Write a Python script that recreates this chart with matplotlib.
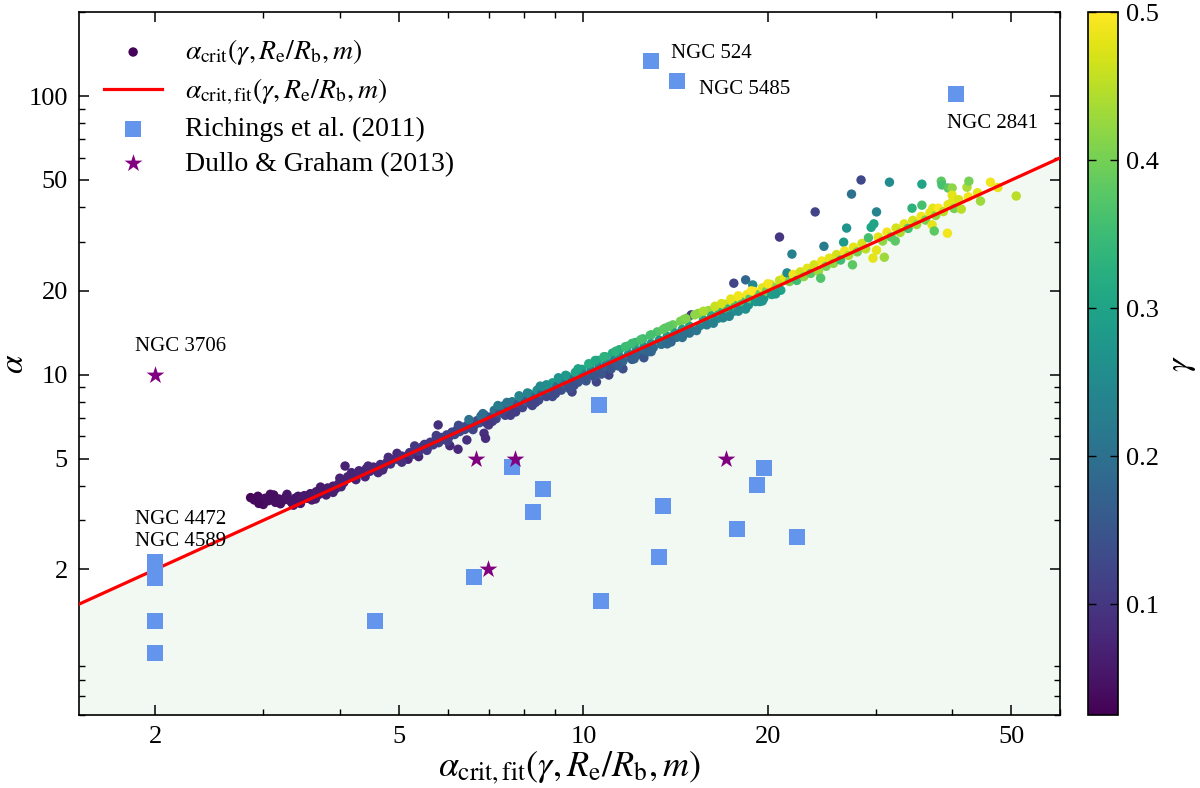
import numpy as np
import matplotlib
matplotlib.use("Agg")
import matplotlib.pyplot as plt
from matplotlib.ticker import FixedLocator, LogLocator, NullFormatter, FuncFormatter

# ---------------- data ----------------
# simulated critical alpha: x = alpha_crit,fit, y = alpha_crit, colour = gamma
crit_fit = [
    2.86, 2.90, 2.94, 2.98, 3.02, 3.06, 3.10, 3.14, 3.18, 3.22,
    3.26, 3.30, 3.34, 3.38, 3.42, 3.46, 3.00, 3.20, 3.36, 3.12,
    3.50, 3.54, 3.58, 3.62, 3.66, 3.70, 3.74, 3.78, 3.82, 3.86,
    3.90, 3.94, 3.98, 4.02, 4.06, 3.60, 3.80, 4.08,
    4.12, 4.18, 4.24, 4.30, 4.36, 4.42, 4.48, 4.54, 4.60, 4.66,
    4.72, 4.78, 4.84, 4.90, 4.96, 5.00, 5.06, 5.12, 5.17, 5.20,
    5.26, 5.32, 5.38, 5.38, 4.40, 4.70,
    5.45, 5.50, 5.56, 5.62, 5.68, 5.74, 5.80, 5.79, 5.86, 5.92,
    5.98, 6.05, 6.04, 6.10, 6.16, 6.22, 6.24, 6.28, 6.34, 6.40,
    6.45, 6.46, 6.52, 6.58, 6.64, 6.70, 6.76, 6.88, 6.92, 6.50, 6.80,
    6.90, 6.95, 7.05, 7.15, 7.20, 7.30, 7.40, 7.45, 7.55, 7.65,
    7.70, 7.80, 7.90, 7.95, 8.05, 8.15, 8.20, 8.30, 8.40, 8.45,
    8.55, 8.65, 8.70, 8.80, 8.90, 8.95, 9.05, 9.15, 9.20, 9.30,
    9.40, 9.45, 9.58, 9.60, 9.70, 9.80,
    9.95, 10.0, 10.05, 10.25, 10.3, 10.35, 10.5, 10.55, 10.6, 10.65,
    10.85, 10.9, 10.95, 11.0, 11.15, 11.2, 11.25, 11.45, 11.5, 11.6,
    11.6, 11.8, 11.85, 11.95, 12.15, 12.2, 12.3, 12.55, 12.5, 12.55,
    12.65, 12.85, 12.9, 13.0, 13.2, 13.3, 13.4, 13.6, 13.7, 13.8,
    14.0, 14.1, 14.2, 14.4, 14.5, 14.6, 14.8, 14.9, 15.0, 15.0, 15.2,
    15.5, 15.6, 15.7, 16.0, 16.1, 16.2, 16.5, 16.6, 16.7, 17.0,
    17.1, 17.2, 17.5, 17.6, 17.6, 17.7, 18.0, 18.1, 18.2, 18.4,
    18.5, 18.6, 18.7, 18.9, 19.0, 19.1, 19.3, 19.6, 19.7, 19.9,
    20.2, 20.3, 20.5, 20.9, 20.9, 21.0,
    21.3, 21.5, 21.7, 21.9, 22.0, 22.3, 22.6, 22.9, 23.2, 23.5,
    23.9, 23.8, 24.2, 24.4, 24.5, 24.7, 24.9, 25.2, 25.6, 25.9,
    26.3, 26.6, 26.7, 26.9, 27.1, 27.4, 27.5, 27.6, 28.0, 28.4,
    28.5, 28.9, 29.2, 29.5, 29.7, 29.8, 30.1, 30.1, 30.3, 30.8,
    31.0, 31.3, 31.6, 31.8, 32.3, 32.4, 32.9, 33.4, 33.9, 34.4,
    34.5, 35.0, 35.7, 35.7, 35.6, 36.2, 36.8, 37.1, 37.2, 37.4,
    37.6, 38.0, 38.4, 38.5, 38.7, 39.3, 39.4, 39.4, 40.0, 40.0,
    40.0, 40.3, 41.4, 41.0, 42.3, 42.6, 42.5, 44.0, 44.5, 46.2,
    47.5, 50.9,
    2.95, 3.08, 3.28, 3.45, 3.65, 3.72, 3.90, 4.00,
    4.25, 4.45, 4.62, 4.80, 5.05, 5.30, 5.55, 5.75, 6.00, 6.25,
    6.60, 6.85, 7.10, 7.50, 7.75, 8.10, 8.35, 8.70, 9.00, 9.35, 9.65,
    10.2, 10.4, 10.8, 11.1, 11.7, 12.0, 12.4, 12.8, 13.5, 13.9, 14.6, 14.9,
    15.4, 15.9, 16.4, 16.9, 17.4, 17.9, 18.8, 19.4, 20.0, 20.6,
    7.0, 7.6, 8.25, 8.9, 9.5, 10.1, 10.7, 11.4, 12.1, 12.9,
    13.7, 14.5, 15.3, 16.3, 17.3, 18.4, 19.6,
    7.25, 7.85, 8.5, 9.1, 9.8, 10.45, 11.3, 12.0, 12.9, 13.8,
    14.7, 15.7, 16.8, 17.9,
]
crit = [
    3.62, 3.55, 3.66, 3.50, 3.60, 3.53, 3.64, 3.48, 3.58, 3.52,
    3.62, 3.55, 3.47, 3.60, 3.66, 3.55, 3.42, 3.44, 3.40, 3.70,
    3.68, 3.60, 3.74, 3.66, 3.80, 3.72, 3.86, 3.78, 3.92, 3.84,
    3.98, 3.90, 4.05, 3.96, 4.10, 3.55, 3.70, 4.70,
    4.30, 4.45, 4.36, 4.52, 4.42, 4.60, 4.50, 4.66, 4.58, 4.76,
    4.68, 4.86, 4.78, 4.96, 5.22, 4.95, 5.10, 5.04, 4.97, 5.25,
    5.18, 5.38, 5.08, 5.30, 4.30, 4.55,
    5.50, 5.62, 5.45, 5.72, 5.60, 5.85, 5.70, 6.60, 5.95, 5.85,
    6.08, 5.56, 6.00, 6.22, 6.10, 6.35, 5.40, 6.25, 6.48, 6.36,
    5.83, 6.58, 6.50, 6.70, 6.60, 6.84, 6.72, 6.16, 5.91, 6.90, 7.10,
    7.15, 6.70, 7.05, 7.45, 6.95, 7.30, 7.72, 7.15, 7.55, 8.00,
    7.40, 7.82, 8.28, 7.62, 8.05, 8.55, 7.85, 8.32, 8.80, 8.10,
    8.58, 9.08, 8.35, 8.82, 9.35, 8.55, 9.08, 9.62, 8.80, 9.35,
    9.88, 9.05, 8.67, 9.62, 10.20, 9.40,
    10.45, 10.0, 9.70, 10.85, 10.3, 9.98, 9.42, 11.25, 10.62, 10.25,
    11.60, 10.92, 10.55, 9.97, 11.95, 11.22, 10.85, 12.30, 11.52, 10.50,
    11.18, 12.65, 11.88, 11.50, 13.05, 12.22, 11.85, 11.50, 13.45, 12.58,
    12.20, 13.85, 12.92, 12.50, 14.25, 13.30, 12.85, 14.70, 13.72, 13.25,
    15.10, 14.12, 13.62, 15.55, 14.52, 14.00, 16.00, 14.92, 16.40, 14.40, 16.40,
    15.0, 16.6, 15.75, 17.0, 15.5, 16.25, 17.4, 15.95, 16.75, 17.9,
    16.4, 17.2, 18.4, 16.9, 21.3, 17.7, 18.9, 17.3, 18.25, 21.9,
    19.4, 17.8, 18.75, 21.0, 19.9, 18.3, 19.35, 20.5, 18.8, 19.95,
    21.1, 19.4, 20.55, 31.2, 21.8, 20.1,
    22.3, 23.2, 21.6, 27.1, 22.9, 21.8, 23.4, 22.5, 24.1, 23.1,
    38.4, 24.8, 23.5, 22.2, 25.6, 28.9, 24.5, 26.2, 25.1, 27.0,
    25.8, 29.9, 27.8, 33.6, 26.8, 44.5, 24.8, 28.7, 27.6, 50.0,
    29.6, 28.3, 31.0, 33.8, 26.2, 34.8, 28.0, 38.4, 31.2, 30.2,
    26.4, 32.5, 49.1, 31.2, 30.2, 33.6, 32.4, 34.8, 33.5, 39.6,
    35.8, 34.6, 40.6, 48.3, 37.0, 35.9, 38.2, 34.5, 39.6, 32.8,
    37.3, 39.6, 49.5, 48.0, 38.5, 32.2, 46.8, 40.8, 46.8, 44.1,
    41.7, 39.5, 39.3, 42.5, 47.1, 49.5, 43.5, 45.0, 42.0, 49.1,
    47.0, 43.8,
    3.45, 3.72, 3.72, 3.45, 3.58, 3.95, 3.78, 4.25,
    4.20, 4.70, 4.45, 5.05, 4.85, 5.55, 5.35, 6.05, 5.78, 6.58,
    6.35, 7.25, 6.80, 7.95, 7.35, 8.60, 7.95, 9.20, 8.55, 9.95, 9.15,
    10.95, 9.85, 11.60, 10.50, 12.60, 11.35, 13.35, 12.10, 14.55, 13.10, 15.80, 14.10,
    16.6, 15.1, 17.6, 16.0, 18.7, 16.9, 20.0, 18.3, 21.2, 19.5,
    6.6, 7.15, 7.75, 8.35, 8.9, 9.5, 10.05, 10.75, 11.4, 12.1,
    12.9, 13.6, 14.4, 15.3, 16.2, 17.2, 18.4,
    7.75, 8.4, 9.1, 9.75, 10.5, 11.25, 12.15, 12.95, 13.9, 14.9,
    15.9, 16.9, 18.0, 19.2,
]
gamma = [
    0.030, 0.035, 0.035, 0.040, 0.040, 0.040, 0.040, 0.045, 0.045, 0.045,
    0.050, 0.050, 0.050, 0.050, 0.050, 0.055, 0.040, 0.045, 0.050, 0.040,
    0.055, 0.055, 0.055, 0.060, 0.060, 0.060, 0.060, 0.060, 0.065, 0.065,
    0.065, 0.065, 0.070, 0.070, 0.070, 0.060, 0.060, 0.070,
    0.070, 0.070, 0.070, 0.075, 0.075, 0.075, 0.080, 0.080, 0.080, 0.080,
    0.085, 0.085, 0.085, 0.090, 0.080, 0.090, 0.090, 0.090, 0.070, 0.095,
    0.095, 0.100, 0.070, 0.100, 0.075, 0.080,
    0.100, 0.100, 0.100, 0.105, 0.105, 0.110, 0.110, 0.090, 0.110, 0.110,
    0.115, 0.080, 0.115, 0.120, 0.120, 0.120, 0.080, 0.125, 0.125, 0.130,
    0.090, 0.130, 0.130, 0.135, 0.135, 0.140, 0.140, 0.090, 0.085, 0.200, 0.200,
    0.18, 0.11, 0.14, 0.20, 0.12, 0.15, 0.20, 0.12, 0.15, 0.22,
    0.12, 0.16, 0.24, 0.12, 0.16, 0.25, 0.13, 0.17, 0.26, 0.13,
    0.18, 0.27, 0.13, 0.18, 0.28, 0.14, 0.19, 0.28, 0.14, 0.20,
    0.29, 0.15, 0.12, 0.20, 0.30, 0.15,
    0.30, 0.22, 0.16, 0.30, 0.23, 0.16, 0.12, 0.31, 0.23, 0.17,
    0.31, 0.24, 0.17, 0.12, 0.32, 0.24, 0.17, 0.32, 0.25, 0.14,
    0.18, 0.33, 0.25, 0.18, 0.34, 0.26, 0.18, 0.15, 0.35, 0.26,
    0.19, 0.36, 0.27, 0.19, 0.37, 0.27, 0.20, 0.38, 0.28, 0.20,
    0.39, 0.28, 0.20, 0.40, 0.29, 0.21, 0.41, 0.29, 0.10, 0.22, 0.42,
    0.23, 0.42, 0.30, 0.43, 0.24, 0.32, 0.45, 0.25, 0.33, 0.46,
    0.26, 0.34, 0.48, 0.26, 0.12, 0.35, 0.49, 0.27, 0.36, 0.18,
    0.49, 0.27, 0.37, 0.25, 0.50, 0.28, 0.38, 0.48, 0.28, 0.40,
    0.47, 0.29, 0.42, 0.10, 0.46, 0.30,
    0.48, 0.25, 0.40, 0.23, 0.49, 0.35, 0.47, 0.42, 0.48, 0.38,
    0.12, 0.47, 0.43, 0.37, 0.49, 0.22, 0.40, 0.48, 0.42, 0.47,
    0.35, 0.28, 0.49, 0.27, 0.44, 0.20, 0.38, 0.48, 0.40, 0.13,
    0.47, 0.45, 0.36, 0.30, 0.48, 0.30, 0.48, 0.24, 0.48, 0.42,
    0.43, 0.49, 0.25, 0.38, 0.38, 0.47, 0.44, 0.48, 0.36, 0.33,
    0.47, 0.43, 0.36, 0.30, 0.49, 0.40, 0.48, 0.48, 0.48, 0.38,
    0.42, 0.50, 0.38, 0.36, 0.45, 0.49, 0.38, 0.48, 0.42, 0.48,
    0.48, 0.40, 0.45, 0.47, 0.44, 0.40, 0.49, 0.48, 0.43, 0.49,
    0.48, 0.45,
    0.035, 0.040, 0.050, 0.050, 0.060, 0.060, 0.065, 0.070,
    0.070, 0.080, 0.080, 0.085, 0.090, 0.100, 0.100, 0.110, 0.110, 0.130,
    0.12, 0.19, 0.11, 0.21, 0.11, 0.24, 0.12, 0.26, 0.13, 0.28, 0.14,
    0.32, 0.15, 0.33, 0.15, 0.35, 0.16, 0.36, 0.17, 0.38, 0.18, 0.40, 0.20,
    0.42, 0.22, 0.46, 0.24, 0.48, 0.25, 0.50, 0.27, 0.49, 0.28,
    0.10, 0.11, 0.12, 0.13, 0.14, 0.15, 0.15, 0.16, 0.17, 0.18,
    0.19, 0.20, 0.21, 0.23, 0.24, 0.26, 0.27,
    0.22, 0.24, 0.25, 0.27, 0.30, 0.31, 0.33, 0.35, 0.36, 0.38,
    0.41, 0.44, 0.47, 0.49,
]

# fit relation (one-to-one)
fit_x = [1.5, 60.0]
fit_y = [1.5, 60.0]

# Richings et al. (2011)
rich_x = [2.0, 2.0, 2.0, 2.0, 4.56, 6.62, 7.65, 8.59, 8.27, 10.6,
          10.7, 12.9, 14.2, 40.6, 13.3, 13.5, 17.8, 19.2, 19.7, 22.3]
rich_y = [2.12, 1.87, 1.31, 1.0, 1.31, 1.88, 4.68, 3.88, 3.22, 7.79,
          1.54, 134.0, 113.5, 102.0, 2.22, 3.39, 2.80, 4.02, 4.62, 2.62]

# Dullo & Graham (2013)
dullo_x = [2.0, 6.67, 7.73, 6.98, 17.1]
dullo_y = [10.0, 5.0, 5.0, 2.0, 5.0]

# galaxy annotations: (label, source, index)
ann_labels = ["NGC 3706", "NGC 4472", "NGC 4589", "NGC 524", "NGC 5485", "NGC 2841"]
ann_source = ["dullo", "rich", "rich", "rich", "rich", "rich"]
ann_index = [0, 0, 0, 11, 12, 13]

xticks = [2, 5, 10, 20, 50]
yticks = [2, 5, 10, 20, 50, 100]
cbar_ticks = [0.1, 0.2, 0.3, 0.4, 0.5]

# ---------------- style ----------------
plt.rcParams["font.family"] = "serif"
plt.rcParams["font.serif"] = ["Liberation Serif", "DejaVu Serif"]
plt.rcParams["mathtext.fontset"] = "stix"

XLIM = (1.5, 60.0)
YLIM = (0.6, 200.0)

fig = plt.figure(figsize=(12, 7.88), dpi=100)
ax = fig.add_axes([0.0658, 0.0926, 0.8175, 0.8918])
cax = fig.add_axes([0.9067, 0.0926, 0.025, 0.8918])

ax.set_xscale("log")
ax.set_yscale("log")
ax.set_xlim(*XLIM)
ax.set_ylim(*YLIM)

ax.fill_between(fit_x, YLIM[0], fit_y, color="green", alpha=0.05, lw=0, zorder=0)

sc = ax.scatter(crit_fit, crit, c=gamma, cmap="viridis", vmin=0.025, vmax=0.5,
                s=46, lw=0, zorder=2,
                label=r"$\alpha_{\rm crit}(\gamma, R_{\rm e}/R_{\rm b}, m)$")
ax.plot(fit_x, fit_y, color="red", lw=2.3, zorder=3,
        label=r"$\alpha_{\rm crit,fit}(\gamma, R_{\rm e}/R_{\rm b}, m)$")
ax.scatter(rich_x, rich_y, marker="s", s=120, color="cornflowerblue", lw=0,
           zorder=4, label="Richings et al. (2011)")
ax.scatter(dullo_x, dullo_y, marker="*", s=180, color="purple", lw=0,
           zorder=5, label="Dullo & Graham (2013)")

offsets = [(18, 20), (-15, 31), (-15, 15), (14.5, 5), (16, -6), (-6.5, -21.5)]
has = ["center", "left", "left", "left", "left", "left"]
for lab, src, idx, off, ha in zip(ann_labels, ann_source, ann_index, offsets, has):
    if src == "dullo":
        xy = (dullo_x[idx], dullo_y[idx])
    else:
        xy = (rich_x[idx], rich_y[idx])
    ax.annotate(lab, xy=xy, xytext=off, textcoords="offset points",
                ha=ha, va="center", fontsize=15, zorder=6)

fmt = FuncFormatter(lambda v, p: f"{v:g}")
ax.xaxis.set_major_locator(FixedLocator(xticks))
ax.yaxis.set_major_locator(FixedLocator(yticks))
ax.xaxis.set_major_formatter(fmt)
ax.yaxis.set_major_formatter(fmt)
ax.xaxis.set_minor_locator(LogLocator(base=10, subs=np.arange(2, 10), numticks=100))
ax.yaxis.set_minor_locator(LogLocator(base=10, subs=np.arange(2, 10), numticks=100))
ax.xaxis.set_minor_formatter(NullFormatter())
ax.yaxis.set_minor_formatter(NullFormatter())
ax.tick_params(which="both", direction="in", top=True, right=True)
ax.tick_params(which="major", length=7, width=1.1, labelsize=19, pad=8)
ax.tick_params(which="minor", length=4, width=1.0)
for sp in ax.spines.values():
    sp.set_linewidth(1.2)

ax.set_xlabel(r"$\alpha_{\rm crit,fit}(\gamma, R_{\rm e}/R_{\rm b}, m)$", fontsize=26, labelpad=1)
ax.set_ylabel(r"$\alpha$", fontsize=24, labelpad=-1)

ax.legend(loc="upper left", frameon=False, fontsize=20, handlelength=2.1,
          handletextpad=0.8, labelspacing=0.34, scatterpoints=1)

cb = fig.colorbar(sc, cax=cax)
cb.set_ticks(cbar_ticks)
cb.ax.yaxis.set_major_formatter(FuncFormatter(lambda v, p: f"{v:.1f}"))
cb.ax.tick_params(direction="in", left=True, right=True, length=6, width=1.0,
                  labelsize=19, pad=6)
cb.ax.minorticks_off()
cb.outline.set_linewidth(1.2)
cb.set_label(r"$\gamma$", fontsize=24, labelpad=6)

fig.savefig("out.png", dpi=100)
